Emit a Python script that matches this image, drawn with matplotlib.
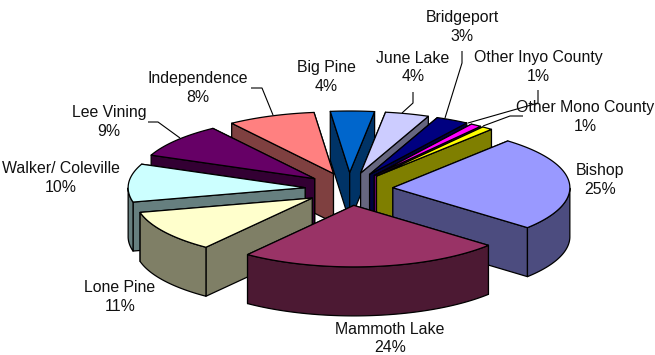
import numpy as np
import matplotlib
matplotlib.use("Agg")
import matplotlib.pyplot as plt
from matplotlib.patches import Polygon

plt.rcParams['font.family'] = ['Liberation Sans', 'DejaVu Sans']

# Data
categories = ["Bishop", "Mammoth Lake", "Lone Pine", "Walker/ Coleville", "Lee Vining",
              "Independence", "Big Pine", "June Lake", "Bridgeport",
              "Other Inyo County", "Other Mono County"]
values = [25, 24, 11, 10, 9, 8, 4, 4, 3, 1, 1]
top_colors = ["#9999FF", "#993366", "#FFFFCC", "#CCFFFF", "#660066", "#FF8080",
              "#0066CC", "#CCCCFF", "#000080", "#FF00FF", "#FFFF00"]
side_colors = ["#4C4C7F", "#4C1933", "#7F7F66", "#667F7F", "#330033", "#7F4040",
               "#003366", "#66667F", "#000040", "#7F007F", "#7F7F00"]

# Layout of the tilted, exploded pie (pixels)
W, H = 655, 355
CX, CY, RX, RY, DEPTH, EXPLODE_X, EXPLODE_Y = 349, 189, 177, 61.5, 49, 44, 16.5
START_ANGLE = 49.5
EDGE = 0.9

# Label anchors (centre x, centre y of the two-line label)
label_pos = {
    "Bishop": (600, 180), "Mammoth Lake": (390, 338.5), "Lone Pine": (120, 297),
    "Walker/ Coleville": (61, 178), "Lee Vining": (109, 122), "Independence": (198, 88),
    "Big Pine": (326, 77), "June Lake": (413, 67.5), "Bridgeport": (462, 27),
    "Other Inyo County": (538, 67), "Other Mono County": (585, 117),
}
leaders = {
    "Lee Vining": [(148, 122), (158, 122), (180, 138)],
    "Independence": [(251, 88), (262, 88), (273, 115)],
    "June Lake": [(413, 92), (413, 103), (402, 113)],
    "Bridgeport": [(462, 51), (462, 63), (445, 118)],
    "Other Inyo County": [(538, 90), (538, 103), (468, 123)],
    "Other Mono County": [(523, 116), (510, 116), (483, 126)],
}

fig = plt.figure(figsize=(W / 100, H / 100), dpi=100)
ax = fig.add_axes([0, 0, 1, 1])
ax.set_xlim(0, W)
ax.set_ylim(H, 0)
ax.axis("off")


def rim(ox, oy, t):
    t = np.radians(t)
    return np.column_stack([ox + RX * np.cos(t), oy - RY * np.sin(t)])


def face(pts, color, z):
    ax.add_patch(Polygon(pts, closed=True, facecolor=color, edgecolor="black",
                         linewidth=EDGE, joinstyle="round", zorder=z))


total = sum(values)
angles = START_ANGLE - np.concatenate([[0], np.cumsum(values)]) * 360 / total
slices = []
for i in range(len(values)):
    t0, t1 = angles[i], angles[i + 1]
    mid = np.radians((t0 + t1) / 2)
    slices.append((np.sin(mid), i, t0, t1, mid))

z = 1
for _, i, t0, t1, mid in sorted(slices, key=lambda s: -s[0]):
    ox = CX + EXPLODE_X * np.cos(mid)
    oy = CY - EXPLODE_Y * np.sin(mid)
    apex = np.array([ox, oy])
    down = np.array([0, DEPTH])
    # radial walls, the one further back first
    for t in sorted((t0, t1), key=lambda a: -np.sin(np.radians(a))):
        p = rim(ox, oy, np.array([t]))[0]
        face([apex, p, p + down, apex + down], side_colors[i], z)
        z += 1
    # outer wall: only the part turned to the viewer
    ts = np.linspace(t1, t0, 120)
    ts = ts[np.sin(np.radians(ts)) <= 0]
    if len(ts) > 1:
        r = rim(ox, oy, ts)
        face(np.vstack([r, (r + down)[::-1]]), side_colors[i], z)
        z += 1
    # top
    r = rim(ox, oy, np.linspace(t0, t1, 120))
    face(np.vstack([apex, r]), top_colors[i], z)
    z += 1

for name, pts in leaders.items():
    xs, ys = zip(*pts)
    ax.plot(xs, ys, color="black", lw=0.8, zorder=z, solid_capstyle="butt")

for name, v in zip(categories, values):
    x, y = label_pos[name]
    ax.text(x, y, f"{name}\n{v}%", ha="center", va="center", fontsize=11.4,
            color="#111111", linespacing=1.3, zorder=z + 1)

fig.savefig("out.png", dpi=100)
